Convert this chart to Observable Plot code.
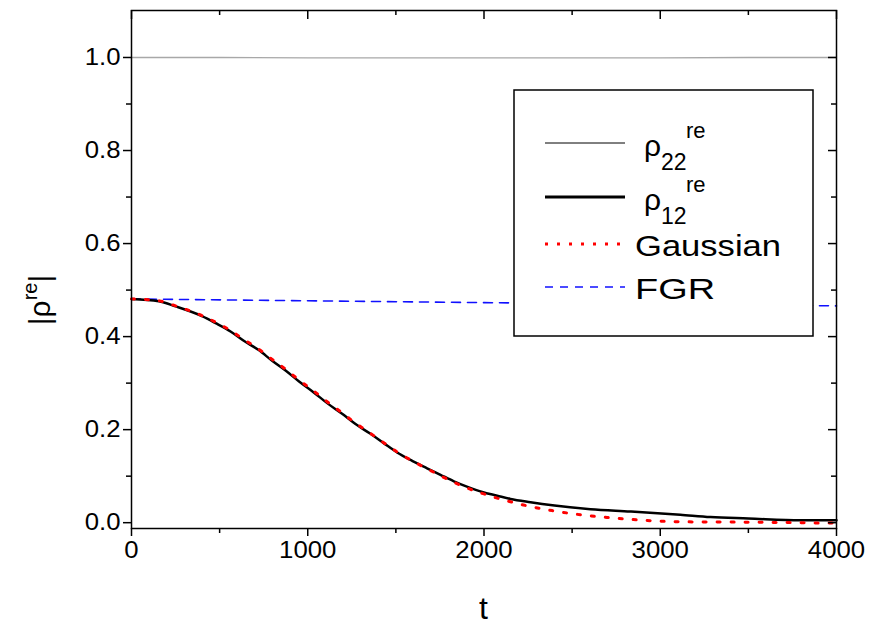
<!DOCTYPE html>
<html>
<head>
<meta charset="utf-8">
<script src="https://cdn.jsdelivr.net/npm/d3@7"></script>
<script src="https://cdn.jsdelivr.net/npm/@observablehq/plot@0.6"></script>
<style>
  html, body { margin: 0; padding: 0; background: white; }
  #wrap { position: relative; width: 871px; height: 626px; font-family: "Liberation Sans", Arial, sans-serif; }
  #ov { position: absolute; left: 0; top: 0; pointer-events: none; }
</style>
</head>
<body>
<div id="wrap"></div>
<script>
// ---- data ----
const rho22T = [0, 500, 1000, 1500, 2000, 2500, 3000, 3500, 4000];
const rho22V = [1.000, 1.000, 0.999, 0.999, 0.999, 0.999, 0.999, 1.000, 1.000];

const rho12T = [0, 155, 250, 400, 477, 562, 637, 722, 798, 874, 949, 1034, 1110, 1195, 1271, 1356, 1431, 1507, 1592, 1677, 1753, 1829, 1914, 1990, 2075, 2150, 2264, 2400, 2604, 2830, 3114, 3285, 3500, 3796, 3983, 4000];
const rho12V = [0.481, 0.476, 0.465, 0.444, 0.429, 0.411, 0.391, 0.371, 0.348, 0.327, 0.304, 0.280, 0.257, 0.234, 0.212, 0.191, 0.171, 0.151, 0.133, 0.117, 0.103, 0.089, 0.076, 0.066, 0.058, 0.051, 0.044, 0.037, 0.029, 0.024, 0.017, 0.012, 0.009, 0.005, 0.005, 0.005];

const gaussT = [0, 155, 250, 400, 477, 562, 637, 722, 798, 874, 949, 1034, 1110, 1195, 1271, 1356, 1431, 1507, 1592, 1677, 1753, 1829, 1914, 1990, 2065, 2150, 2224, 2387, 2548, 2707, 2870, 3103, 3500, 4000];
const gaussV = [0.481, 0.477, 0.466, 0.445, 0.431, 0.413, 0.394, 0.373, 0.351, 0.330, 0.307, 0.283, 0.260, 0.236, 0.214, 0.192, 0.172, 0.152, 0.133, 0.116, 0.101, 0.087, 0.073, 0.063, 0.054, 0.045, 0.038, 0.026, 0.017, 0.011, 0.006, 0.002, 0.001, -0.001];

const fgrT = [0, 1000, 2000, 3000, 4000];
const fgrV = [0.481, 0.477, 0.473, 0.470, 0.466];

const xMajor = [0, 1000, 2000, 3000, 4000];
const xMinor = [500, 1500, 2500, 3500];
const yMajor = [0.0, 0.2, 0.4, 0.6, 0.8, 1.0];
const yMinor = [0.1, 0.3, 0.5, 0.7, 0.9];

const legendLabels = [
  {base: "ρ", sub: "22", sup: "re"},
  {base: "ρ", sub: "12", sup: "re"},
  {base: "Gaussian"},
  {base: "FGR"}
];

// ---- build tables ----
const zip = (T, V) => T.map((t, i) => ({t, v: V[i]}));
const rho22 = zip(rho22T, rho22V);
const rho12 = zip(rho12T, rho12V);
const gauss = zip(gaussT, gaussV);
const fgr = zip(fgrT, fgrV);

const W = 871, H = 626;
const mL = 131, mR = 35, mT = 10, mB = 98;
const fw = W - mL - mR, fh = H - mT - mB;

const styles = {
  rho22: {stroke: "#a8a8a8", strokeWidth: 1.3},
  rho12: {stroke: "black", strokeWidth: 2.5},
  gauss: {stroke: "red", strokeWidth: 3, strokeDasharray: "3,11"},
  fgr: {stroke: "#1010ff", strokeWidth: 1.6, strokeDasharray: "9,7"}
};

const plot = Plot.plot({
  width: W, height: H,
  marginLeft: mL, marginRight: mR, marginTop: mT, marginBottom: mB,
  x: {domain: [0, 4000]},
  y: {domain: [-0.0125, 1.101]},
  style: {fontFamily: "'Liberation Sans', Arial, sans-serif", fontSize: "23px", color: "black", background: "white"},
  marks: [
    Plot.line(rho22, {x: "t", y: "v", ...styles.rho22}),
    Plot.line(fgr, {x: "t", y: "v", ...styles.fgr}),
    Plot.line(rho12, {x: "t", y: "v", ...styles.rho12, curve: "monotone-x"}),
    Plot.line(gauss, {x: "t", y: "v", ...styles.gauss, curve: "monotone-x"}),
    Plot.frame({stroke: "black", strokeWidth: 1.5}),
    Plot.axisX({ticks: xMajor, tickSize: 8, tickPadding: 5, tickFormat: d => String(d), label: null, strokeWidth: 1.5}),
    Plot.axisX({ticks: xMinor, tickSize: 5, tickFormat: () => "", label: null, strokeWidth: 1.5}),
    Plot.axisY({ticks: yMajor, tickSize: 8, tickPadding: 3, tickFormat: d => d.toFixed(1), label: null, strokeWidth: 1.5}),
    Plot.axisY({ticks: yMinor, tickSize: 5, tickFormat: () => "", label: null, strokeWidth: 1.5}),
    // inward mirror ticks on top and right
    Plot.tickX(xMajor, {x: d => d, insetBottom: fh - 9, strokeWidth: 1.5}),
    Plot.tickX(xMinor, {x: d => d, insetBottom: fh - 5, strokeWidth: 1.5}),
    Plot.tickY(yMajor, {y: d => d, insetLeft: fw - 8, strokeWidth: 1.5}),
    Plot.tickY(yMinor, {y: d => d, insetLeft: fw - 5, strokeWidth: 1.5})
  ]
});

const wrap = document.getElementById("wrap");
wrap.appendChild(plot);

// enlarge and widen tick labels like the reference
plot.querySelectorAll("g[aria-label$='tick label'] text").forEach(t => {
  t.setAttribute("font-size", 23);
  t.style.fontSize = "23px";
  const w = t.getComputedTextLength();
  if (w > 0) {
    t.setAttribute("textLength", (w * 1.12).toFixed(1));
    t.setAttribute("lengthAdjust", "spacingAndGlyphs");
  }
});

// ---- overlay: axis titles and legend ----
const NS = "http://www.w3.org/2000/svg";
const ov = document.createElementNS(NS, "svg");
ov.setAttribute("id", "ov");
ov.setAttribute("width", W);
ov.setAttribute("height", H);
ov.setAttribute("font-family", "'Liberation Sans', Arial, sans-serif");
wrap.appendChild(ov);

function el(name, attrs, parent = ov) {
  const e = document.createElementNS(NS, name);
  for (const k in attrs) e.setAttribute(k, attrs[k]);
  parent.appendChild(e);
  return e;
}
function txt(x, y, s, size, parent = ov, extra = {}) {
  const e = el("text", {x, y, "font-size": size, fill: "black", ...extra}, parent);
  e.textContent = s;
  return e;
}

// x title
txt(W / 2 + (mL - mR) / 2, 619, "t", 32, ov, {"text-anchor": "middle"});

// y title |ρ^re|
const g = el("g", {transform: "translate(50,300) rotate(-90)"});
const yt = el("text", {x: 0, y: 0, "font-size": 30, "text-anchor": "middle", fill: "black"}, g);
const t1 = el("tspan", {}, yt); t1.textContent = "|ρ";
const t2 = el("tspan", {"font-size": 20, dy: -13}, yt); t2.textContent = "re";
const t3 = el("tspan", {dy: 13}, yt); t3.textContent = "|";

// legend box
el("rect", {x: 514, y: 90, width: 299, height: 246, fill: "white", stroke: "black", "stroke-width": 1.5});
const keys = ["rho22", "rho12", "gauss", "fgr"];
const rowY = [143, 197, 244, 287];
const textLen = [null, null, 146, 80];
keys.forEach((k, i) => {
  const s = styles[k];
  const a = {x1: 545, x2: 625, y1: rowY[i], y2: rowY[i], stroke: k === "rho22" ? "black" : s.stroke, "stroke-width": k === "rho22" ? 1 : (k === "rho12" ? 3 : s.strokeWidth)};
  if (s.strokeDasharray) a["stroke-dasharray"] = k === "gauss" ? "3,9" : "8,7";
  el("line", a);
  const L = legendLabels[i];
  if (L.sub) {
    txt(644, rowY[i] + 13, L.base, 30);
    txt(661, rowY[i] + 27, L.sub, 23);
    txt(686, rowY[i] - 5, L.sup, 22);
  } else {
    txt(635, rowY[i] + 12, L.base, 29, ov, {textLength: textLen[i], lengthAdjust: "spacingAndGlyphs"});
  }
});
</script>
</body>
</html>
